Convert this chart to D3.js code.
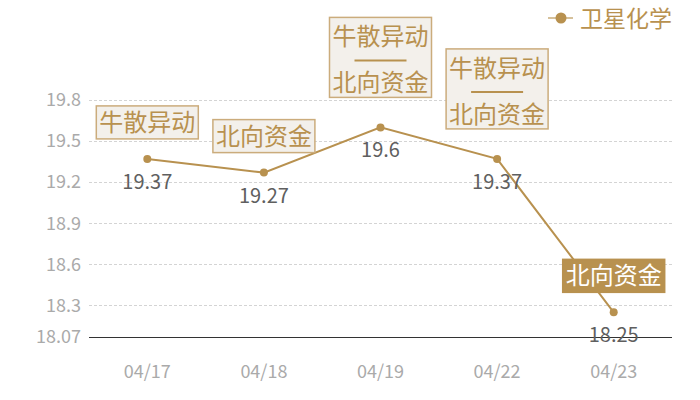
<!DOCTYPE html>
<html>
<head>
<meta charset="utf-8">
<script src="https://cdn.jsdelivr.net/npm/d3@7"></script>
<style>
  body { margin: 0; background: #fff; }
  svg text { font-family: "Noto Sans CJK SC", "Noto Sans", sans-serif; }
</style>
</head>
<body>
<div class="chart"></div>
<script>
// data
const dates = ["04/17", "04/18", "04/19", "04/22", "04/23"];
const prices = [19.37, 19.27, 19.6, 19.37, 18.25];
const notes = [["牛散异动"], ["北向资金"], ["牛散异动", "北向资金"], ["牛散异动", "北向资金"], ["北向资金"]];
const highlighted = [false, false, false, false, true];
const yTicks = [18.07, 18.3, 18.6, 18.9, 19.2, 19.5, 19.8];
const seriesName = "卫星化学";

const gold = "#b8914f";
const width = 700, height = 400;
const margin = { top: 100, right: 28, bottom: 63, left: 89 };

const svg = d3.select(".chart")
    .append("svg")
    .attr("width", width)
    .attr("height", height);

const x = d3.scaleBand()
    .domain(dates)
    .range([margin.left, width - margin.right]);

const y = d3.scaleLinear()
    .domain([18.07, 19.8])
    .range([height - margin.bottom, margin.top]);

const cx = d => x(d) + x.bandwidth() / 2;

// grid lines
svg.append("g")
    .selectAll("line")
    .data(yTicks.filter(t => t !== 18.07))
    .enter().append("line")
    .attr("x1", margin.left)
    .attr("x2", width - margin.right)
    .attr("y1", d => Math.round(y(d)) + 0.5)
    .attr("y2", d => Math.round(y(d)) + 0.5)
    .attr("stroke", "#d4d4d4")
    .attr("stroke-dasharray", "3,2");

// y axis labels
svg.append("g")
    .selectAll("text")
    .data(yTicks)
    .enter().append("text")
    .attr("x", 81)
    .attr("y", d => y(d))
    .attr("dy", "0.35em")
    .attr("text-anchor", "end")
    .style("font-size", "18px")
    .style("fill", "#aaaaaa")
    .text(d => d);

// x axis line
svg.append("line")
    .attr("x1", margin.left)
    .attr("x2", width - margin.right)
    .attr("y1", Math.round(y(18.07)) + 0.5)
    .attr("y2", Math.round(y(18.07)) + 0.5)
    .attr("stroke", "#333")
    .attr("stroke-width", 1);

// x labels
svg.append("g")
    .selectAll("text")
    .data(dates)
    .enter().append("text")
    .attr("x", d => cx(d))
    .attr("y", 378)
    .attr("text-anchor", "middle")
    .style("font-size", "18px")
    .style("fill", "#aaaaaa")
    .text(d => d);

// line
const line = d3.line()
    .x((d, i) => cx(dates[i]))
    .y(d => y(d));

svg.append("path")
    .datum(prices)
    .attr("d", line)
    .attr("fill", "none")
    .attr("stroke", gold)
    .attr("stroke-width", 2);

svg.append("g")
    .selectAll("circle")
    .data(prices)
    .enter().append("circle")
    .attr("cx", (d, i) => cx(dates[i]))
    .attr("cy", d => y(d))
    .attr("r", 4)
    .attr("fill", gold);

// value labels
svg.append("g")
    .selectAll("text")
    .data(prices)
    .enter().append("text")
    .attr("x", (d, i) => cx(dates[i]))
    .attr("y", d => y(d) + 30)
    .attr("text-anchor", "middle")
    .style("font-size", "20px")
    .style("fill", "#5f5f5f")
    .text(d => d);

// annotation boxes
notes.forEach((lines, i) => {
    const px = cx(dates[i]);
    const py = y(prices[i]);
    const boxW = 102;
    const boxH = lines.length > 1 ? 80 : 33;
    const gap = lines.length > 1 ? 30 : 20;
    const top = py - gap - boxH;
    const hl = highlighted[i];

    const g = svg.append("g");
    g.append("rect")
        .attr("x", px - boxW / 2)
        .attr("y", top)
        .attr("width", boxW)
        .attr("height", boxH)
        .attr("fill", hl ? gold : "#f3f0eb")
        .attr("stroke", hl ? gold : "#cbac7c")
        .attr("stroke-width", 1.5);

    if (lines.length > 1) {
        g.append("text")
            .attr("x", px).attr("y", top + 19)
            .attr("dy", "0.36em")
            .attr("text-anchor", "middle")
            .style("font-size", "24px")
            .style("fill", gold)
            .text(lines[0]);
        g.append("line")
            .attr("x1", px - 26).attr("x2", px + 26)
            .attr("y1", top + 43).attr("y2", top + 43)
            .attr("stroke", gold)
            .attr("stroke-width", 2);
        g.append("text")
            .attr("x", px).attr("y", top + 65)
            .attr("dy", "0.36em")
            .attr("text-anchor", "middle")
            .style("font-size", "24px")
            .style("fill", gold)
            .text(lines[1]);
    } else {
        g.append("text")
            .attr("x", px).attr("y", top + boxH / 2)
            .attr("dy", "0.36em")
            .attr("text-anchor", "middle")
            .style("font-size", "24px")
            .style("fill", hl ? "#fff" : gold)
            .text(lines[0]);
    }
});

// legend
const legend = svg.append("g").attr("transform", "translate(548,18)");
legend.append("line")
    .attr("x1", 0).attr("x2", 25)
    .attr("stroke", "#d6c19b")
    .attr("stroke-width", 2);
legend.append("circle")
    .attr("cx", 13).attr("r", 5.5)
    .attr("fill", gold);
legend.append("text")
    .attr("x", 32)
    .attr("y", 9)
    .style("font-size", "23px")
    .style("fill", gold)
    .text(seriesName);
</script>
</body>
</html>
